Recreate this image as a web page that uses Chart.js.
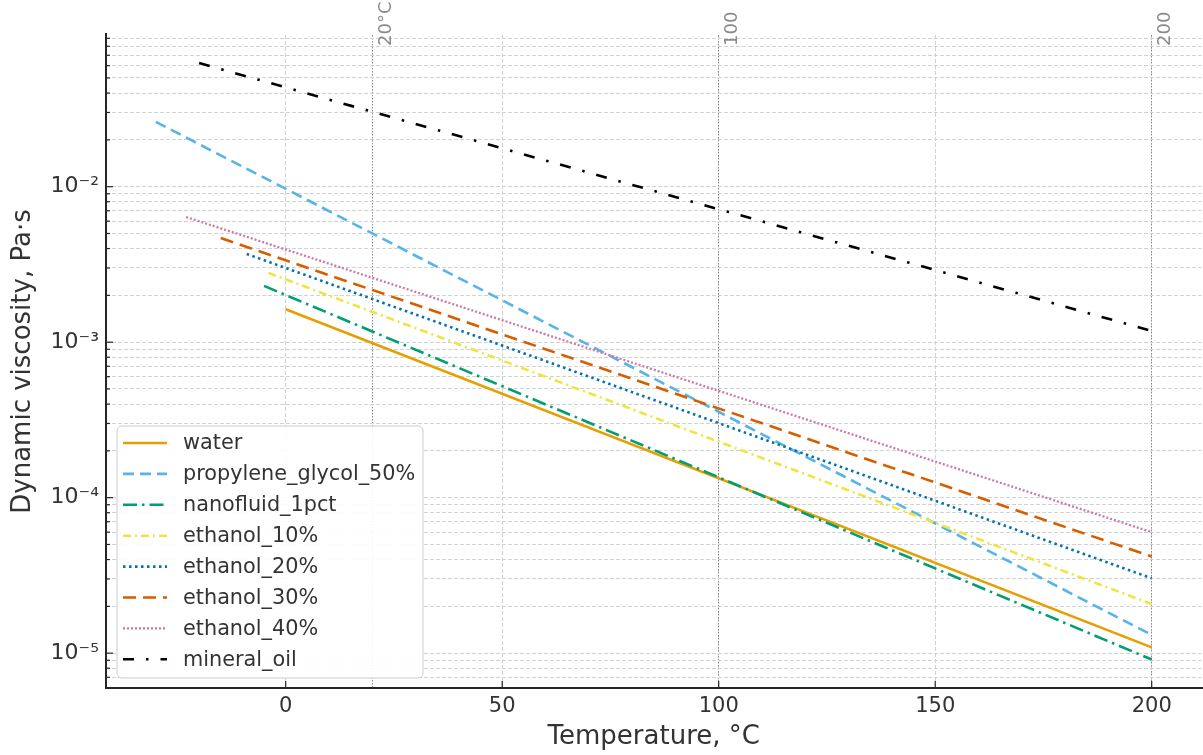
<!DOCTYPE html>
<html><head><meta charset="utf-8">
<script src="https://cdn.jsdelivr.net/npm/chart.js@4.4.1/dist/chart.umd.min.js"></script>
<style>html,body{margin:0;padding:0;background:#fff;}#wrap{width:1203px;height:755px;}</style>
</head><body><div id="wrap"><canvas id="c" width="1203" height="755"></canvas></div>
<script>
// ---- data ----
const seriesNames = ['water','propylene_glycol_50%','nanofluid_1pct','ethanol_10%','ethanol_20%','ethanol_30%','ethanol_40%','mineral_oil'];
const waterT = [0, 200];      const waterMu = [1.63e-3, 1.09e-5];
const pgT = [-30, 200];       const pgMu = [2.61e-2, 1.31e-5];
const nanoT = [-5, 200];      const nanoMu = [2.30e-3, 9.1e-6];
const eth10T = [-4, 200];     const eth10Mu = [2.79e-3, 2.07e-5];
const eth20T = [-9, 200];     const eth20Mu = [3.69e-3, 3.03e-5];
const eth30T = [-15, 200];    const eth30Mu = [4.67e-3, 4.18e-5];
const eth40T = [-23, 200];    const eth40Mu = [6.38e-3, 6.0e-5];
const oilT = [-20, 200];      const oilMu = [6.24e-2, 1.18e-3];
const xTickValues = [0, 50, 100, 150, 200];
const yMajorTicks = [1e-5, 1e-4, 1e-3, 1e-2];
const yTickLabels = ['10\u207B\u2075', '10\u207B\u2074', '10\u207B\u00B3', '10\u207B\u00B2'];
const refTicks = [20, 100, 200];
const refLabels = ['20°C', '100', '200'];

// ---- styles ----
const colors = ['#E69F00','#56B4E9','#009E73','#F0E442','#0072B2','#D55E00','#CC79A7','#000000'];
const dashes = [[], [11,6], [14,5,2.5,5], [8,4,2,4], [2.5,3.5], [13,7], [2,2], [11,12,2.5,12]];
const widths = [2.6, 2.6, 2.6, 2.6, 2.6, 2.6, 2.3, 2.6];

const temps = [waterT, pgT, nanoT, eth10T, eth20T, eth30T, eth40T, oilT];
const mus = [waterMu, pgMu, nanoMu, eth10Mu, eth20Mu, eth30Mu, eth40Mu, oilMu];

const datasets = seriesNames.map((n, i) => ({
  label: n,
  data: temps[i].map((t, k) => ({x: t, y: mus[i][k]})),
  borderColor: colors[i], backgroundColor: colors[i],
  borderDash: dashes[i], borderWidth: widths[i],
  pointRadius: 0, tension: 0, fill: false, borderCapStyle: 'butt',
  order: -i
}));

const XMIN = -41.5, XMAX = 211.5, YMIN = 5.97e-6, YMAX = 0.0945;
const FONT = "'DejaVu Sans', sans-serif";
const isMajor = v => yMajorTicks.some(m => Math.abs(Math.log10(v) - Math.log10(m)) < 1e-6);

const decor = {
  id: 'decor',
  afterDraw(chart) {
    const {ctx, chartArea: ca, scales} = chart;
    const x = scales.x, y = scales.y, x2 = scales.x2;
    const line = (a,b,c,d) => { ctx.beginPath(); ctx.moveTo(a,b); ctx.lineTo(c,d); ctx.stroke(); };
    ctx.save();
    // inward ticks
    ctx.strokeStyle = '#262626'; ctx.lineWidth = 1.2; ctx.setLineDash([]);
    x.ticks.forEach(t => { const px = x.getPixelForValue(t.value); line(px, ca.bottom, px, ca.bottom - 7); });
    y.ticks.forEach(t => { const py = y.getPixelForValue(t.value); line(ca.left, py, ca.left + (isMajor(t.value) ? 7 : 4), py); });
    // spines
    ctx.lineWidth = 2; ctx.strokeStyle = '#262626';
    line(ca.left, ca.top - 2, ca.left, ca.bottom + 1);
    line(ca.left - 1, ca.bottom, chart.width, ca.bottom);
    // top reference labels
    ctx.fillStyle = '#8a8a8a'; ctx.font = '18px ' + FONT;
    ctx.textAlign = 'left'; ctx.textBaseline = 'middle';
    refTicks.forEach((v, i) => {
      const px = x2.getPixelForValue(v);
      ctx.save(); ctx.translate(px + 14, ca.top + 11); ctx.rotate(-Math.PI / 2);
      ctx.fillText(refLabels[i], 0, 0); ctx.restore();
    });
    // legend
    const bx = ca.left + 11, bw = 306, bh = 252, by = ca.bottom - 10 - bh;
    ctx.beginPath();
    if (ctx.roundRect) ctx.roundRect(bx, by, bw, bh, 5); else ctx.rect(bx, by, bw, bh);
    ctx.fillStyle = 'rgba(255,255,255,0.9)'; ctx.fill();
    ctx.strokeStyle = '#cccccc'; ctx.lineWidth = 1; ctx.stroke();
    ctx.font = '20.8px ' + FONT; ctx.textBaseline = 'middle'; ctx.textAlign = 'left';
    chart.data.datasets.forEach((ds, i) => {
      const ry = by + 17 + i * 30.9;
      ctx.strokeStyle = ds.borderColor; ctx.lineWidth = ds.borderWidth; ctx.setLineDash(ds.borderDash);
      ctx.lineCap = 'butt';
      line(bx + 6, ry, bx + 50, ry);
      ctx.setLineDash([]);
      ctx.fillStyle = '#333333';
      ctx.fillText(ds.label, bx + 66, ry + 1);
    });
    ctx.restore();
  }
};

new Chart(document.getElementById('c'), {
  type: 'line',
  data: { datasets },
  options: {
    responsive: false, animation: false, devicePixelRatio: 1,
    layout: { padding: { top: 35, right: 1.5, left: 0, bottom: 0 } },
    plugins: { legend: { display: false }, tooltip: { enabled: false } },
    scales: {
      x: {
        type: 'linear', position: 'bottom', min: XMIN, max: XMAX,
        afterBuildTicks: s => { s.ticks = xTickValues.map(v => ({value: v})); },
        afterFit: s => { s.height = 67; },
        ticks: { color: '#333', font: { family: FONT, size: 21 }, padding: 6, autoSkip: false, maxRotation: 0,
                 callback: v => String(v) },
        grid: { color: '#d2d2d2', lineWidth: 1, drawTicks: false },
        border: { display: false, dash: [4, 2] },
        title: { display: true, text: 'Temperature, °C', color: '#333', font: { family: FONT, size: 26 }, padding: { top: 0, bottom: 2 } }
      },
      x2: {
        type: 'linear', position: 'top', min: XMIN, max: XMAX,
        afterBuildTicks: s => { s.ticks = refTicks.map(v => ({value: v})); },
        afterFit: s => { s.height = 0; },
        ticks: { display: false },
        grid: { color: '#8c8c8c', lineWidth: 1, drawTicks: false },
        border: { display: false, dash: [1.5, 1.5] }
      },
      y: {
        type: 'logarithmic', position: 'left', min: YMIN, max: YMAX,
        afterBuildTicks: s => {
          const t = [];
          for (let e = -6; e <= -1; e++) for (let m = 1; m <= 9; m++) {
            const v = m * Math.pow(10, e);
            if (v >= YMIN && v <= YMAX) t.push({value: v});
          }
          s.ticks = t;
        },
        afterFit: s => { s.width = 106; },
        ticks: { color: '#333', font: { family: FONT, size: 22 }, padding: 7, autoSkip: false,
                 callback: v => { const i = yMajorTicks.findIndex(m => Math.abs(Math.log10(v) - Math.log10(m)) < 1e-6); return i >= 0 ? yTickLabels[i] : ''; } },
        grid: { color: '#d2d2d2', lineWidth: 1, drawTicks: false },
        border: { display: false, dash: [4, 2] },
        title: { display: true, text: 'Dynamic viscosity, Pa·s', color: '#333', font: { family: FONT, size: 26 }, padding: { top: 8, bottom: 0 } }
      }
    }
  },
  plugins: [decor]
});
</script></body></html>
